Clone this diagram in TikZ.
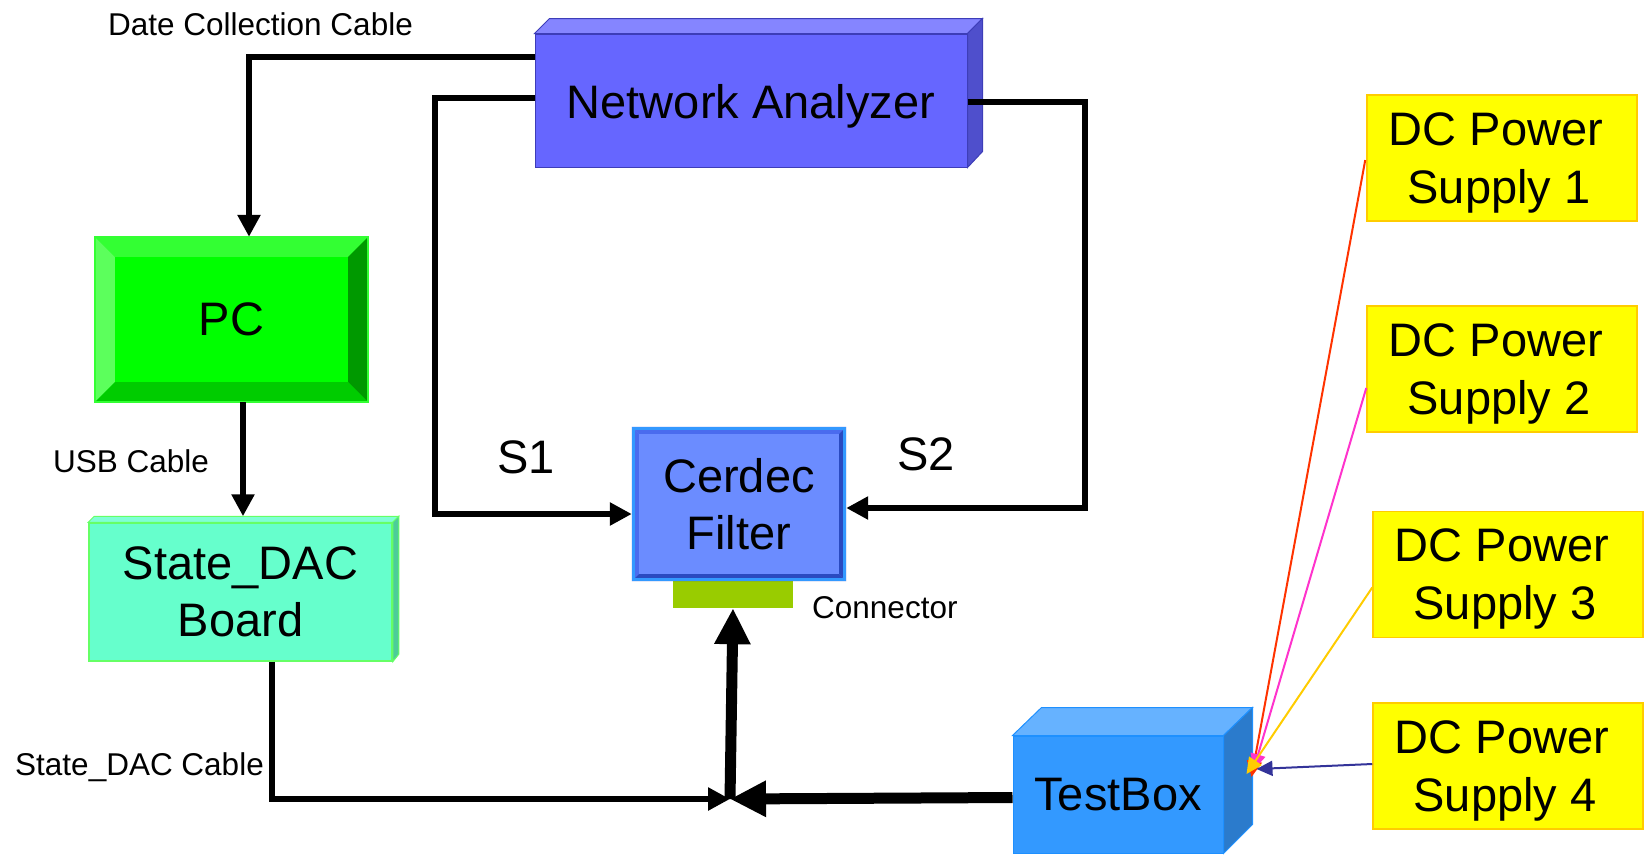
\documentclass[tikz,border=0pt]{standalone}
\usepackage{fontspec}
\setmainfont{Liberation Sans}
\usetikzlibrary{arrows.meta,calc}
\definecolor{naFront}{HTML}{6666FF}
\definecolor{naTop}{HTML}{8585FF}
\definecolor{naSide}{HTML}{4F4FCC}
\definecolor{naBorder}{HTML}{3D3DB8}
\definecolor{pcCenter}{HTML}{00FF00}
\definecolor{pcTop}{HTML}{33FF33}
\definecolor{pcLeft}{HTML}{5CFF5C}
\definecolor{pcRight}{HTML}{009900}
\definecolor{pcBottom}{HTML}{00CC00}
\definecolor{pcBorder}{HTML}{33FF33}
\definecolor{sdFront}{HTML}{66FFCC}
\definecolor{sdTop}{HTML}{80FFD5}
\definecolor{sdSide}{HTML}{4DCC99}
\definecolor{sdBorder}{HTML}{66FF66}
\definecolor{cfCenter}{HTML}{6B8CFF}
\definecolor{cfOuter}{HTML}{3399FF}
\definecolor{cfBevL}{HTML}{4A6BEE}
\definecolor{cfBevD}{HTML}{2A4AC0}
\definecolor{connGreen}{HTML}{99CC00}
\definecolor{tbFront}{HTML}{3399FF}
\definecolor{tbTop}{HTML}{66B2FF}
\definecolor{tbSide}{HTML}{2B7BCC}
\definecolor{tbBorder}{HTML}{1E90FF}
\definecolor{dcFill}{HTML}{FFFF00}
\definecolor{dcBorder}{HTML}{FFCC00}
\definecolor{wRed}{HTML}{FF3300}
\definecolor{wMag}{HTML}{FF33CC}
\definecolor{wOrange}{HTML}{FFCC00}
\definecolor{wBlue}{HTML}{333399}
\newcommand{\dcstrut}{\rule{0pt}{42pt}}
\begin{document}
\begin{tikzpicture}[x=1pt,y=-1pt,
  bigtxt/.style={font=\fontsize{47}{57}\selectfont, align=center, text=black},
  smalltxt/.style={font=\fontsize{31.5}{36}\selectfont, text=black, inner sep=0pt},
  box/.style={bigtxt, inner sep=0pt, minimum width=#1},
  cable/.style={line width=5.5pt, -{Triangle[width=22pt,length=22pt]}},
  heavy/.style={line width=11pt, -{Triangle[width=34pt,length=36pt]}},
  wire/.style={line width=2pt, -{Triangle[width=15pt,length=16pt]}},
  dcbox/.style={bigtxt, font=\fontsize{47}{58}\selectfont, fill=dcFill, draw=dcBorder, line width=1.5pt, minimum width=270pt, minimum height=126pt, inner sep=0pt}
]
\useasboundingbox (0,0) rectangle (1649,855);

% Network Analyzer
\node[box=432pt, minimum height=133pt, fill=naFront, draw=naBorder, line width=1pt] (na) at (751,100.5) {\rule{0pt}{45pt}Network Analyzer};
\filldraw[fill=naTop, draw=naBorder, line width=1pt] (na.north west) -- ++(15,-15) -- ($(na.north east)+(15,-15)$) -- (na.north east) -- cycle;
\filldraw[fill=naSide, draw=naBorder, line width=1pt] (na.north east) -- ++(15,-15) -- ++(0,133) -- (na.south east) -- cycle;

% PC
\node[box=273pt, minimum height=165pt, fill=pcCenter] (pc) at (231.5,319.5) {PC};
\fill[pcTop] (pc.north west) -- (pc.north east) -- ($(pc.north east)+(-20,20)$) -- ($(pc.north west)+(20,20)$) -- cycle;
\fill[pcLeft] (pc.north west) -- ($(pc.north west)+(20,20)$) -- ($(pc.south west)+(20,-20)$) -- (pc.south west) -- cycle;
\fill[pcRight] (pc.north east) -- ($(pc.north east)+(-20,20)$) -- ($(pc.south east)+(-20,-20)$) -- (pc.south east) -- cycle;
\fill[pcBottom] (pc.south west) -- ($(pc.south west)+(20,-20)$) -- ($(pc.south east)+(-20,-20)$) -- (pc.south east) -- cycle;
\draw[pcBorder, line width=1.5pt] (pc.north west) rectangle (pc.south east);

% State_DAC Board
\node[box=303pt, minimum height=138pt, fill=sdFront, draw=sdBorder, line width=1.5pt] (sd) at (240.5,592) {State\_DAC\\Board};
\filldraw[fill=sdTop, draw=sdBorder, line width=1pt] (sd.north west) -- ++(6,-6) -- ($(sd.north east)+(6,-6)$) -- (sd.north east) -- cycle;
\filldraw[fill=sdSide, draw=sdBorder, line width=1pt] (sd.north east) -- ++(6,-6) -- ++(0,138) -- (sd.south east) -- cycle;

% Connector
\node[fill=connGreen, minimum width=120pt, minimum height=27pt, inner sep=0pt] (conn) at (733,594.5) {};

% Cerdec Filter
\node[box=214pt, minimum height=154pt, fill=cfCenter] (cf) at (739,504) {Cerdec\\Filter};
\fill[cfBevL] (cf.north west) -- (cf.north east) -- ($(cf.north east)+(-7,7)$) -- ($(cf.north west)+(7,7)$) -- cycle;
\fill[cfBevL] (cf.north west) -- ($(cf.north west)+(7,7)$) -- ($(cf.south west)+(7,-7)$) -- (cf.south west) -- cycle;
\fill[cfBevD] (cf.north east) -- ($(cf.north east)+(-7,7)$) -- ($(cf.south east)+(-7,-7)$) -- (cf.south east) -- cycle;
\fill[cfBevD] (cf.south west) -- ($(cf.south west)+(7,-7)$) -- ($(cf.south east)+(-7,-7)$) -- (cf.south east) -- cycle;
\draw[cfOuter, line width=3pt] ($(cf.north west)+(1.5,1.5)$) rectangle ($(cf.south east)+(-1.5,-1.5)$);

% TestBox
\node[box=210pt, minimum height=117pt, fill=tbFront, draw=tbBorder, line width=1pt] (tb) at (1118,794.5) {TestBox};
\filldraw[fill=tbTop, draw=tbBorder, line width=1pt] (tb.north west) -- ++(29,-28) -- ($(tb.north east)+(29,-28)$) -- (tb.north east) -- cycle;
\filldraw[fill=tbSide, draw=tbBorder, line width=1pt] (tb.north east) -- ++(29,-28) -- ++(0,117) -- (tb.south east) -- cycle;

% DC power supplies
\node[dcbox] (dc1) at (1502,158) {\dcstrut DC Power\hspace*{12pt}\\Supply 1\hspace*{6pt}};
\node[dcbox] (dc2) at (1502,369) {\dcstrut DC Power\hspace*{12pt}\\Supply 2\hspace*{6pt}};
\node[dcbox] (dc3) at (1508,574.5) {\dcstrut DC Power\hspace*{12pt}\\Supply 3\hspace*{6pt}};
\node[dcbox] (dc4) at (1508,766) {\dcstrut DC Power\hspace*{12pt}\\Supply 4\hspace*{6pt}};

% labels
\node[smalltxt, anchor=base west] (lDate) at (108,35) {Date Collection Cable};
\node[smalltxt, anchor=base west] (lUsb) at (53,472) {USB Cable};
\node[smalltxt, anchor=base west] (lSd) at (15,775) {State\_DAC Cable};
\node[smalltxt, anchor=base west] (lConn) at (812,618) {Connector};
\node[bigtxt, inner sep=0pt, anchor=base west] (lS1) at (497,473) {S1};
\node[bigtxt, inner sep=0pt, anchor=base west] (lS2) at (897,470) {S2};

% connectors
\coordinate (s1c) at (435,98);
\coordinate (s2c) at (1085,102);
\coordinate (J) at (730,799);

\draw[cable] ($(na.west)+(0,-43.5)$) -| ($(pc.north)+(17.5,0)$);
\draw[cable] ($(na.west)+(0,-2.5)$) -- (s1c) |- ($(cf.west)+(0,10)$);
\draw[cable] ($(na.east)+(0,1.5)$) -- (s2c) |- ($(cf.east)+(0,4)$);
\draw[cable] ($(pc.south)+(11.5,0)$) -- ($(sd.north)+(2.5,-6)$);
\draw[cable] ($(sd.south)+(31.5,0)$) |- (J);
\draw[heavy] ($(tb.west)+(0,3)$) -- (J);
\draw[heavy] (J) -- (conn.south);

% power wires
\draw[wire, wRed] ($(dc1.west)+(-1,2)$) -- ($(tb.east)+(28,-17.5)$);
\draw[wire, wMag] ($(dc2.west)+(0,19)$) -- ($(tb.east)+(30,-24.5)$);
\draw[wire, wOrange] ($(dc3.west)+(0,13)$) -- ($(tb.east)+(23,-20.5)$);
\draw[wire, wBlue] ($(dc4.west)+(0,-2)$) -- ($(tb.east)+(33,-25.5)$);
\end{tikzpicture}
\end{document}
